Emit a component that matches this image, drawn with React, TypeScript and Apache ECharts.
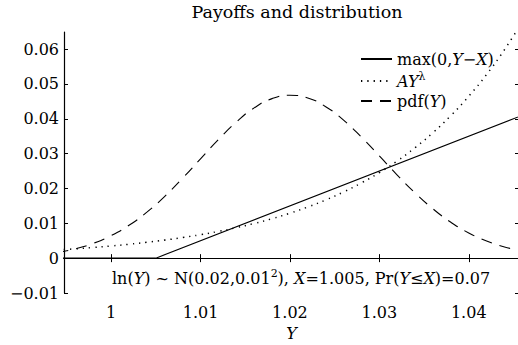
import React, { useEffect, useRef } from "react";
import * as echarts from "echarts";

// Y grid (x-axis values)
const yGrid = [
  0.994, 0.996, 0.998, 1.0, 1.002, 1.004, 1.006, 1.008, 1.01, 1.012, 1.014, 1.016, 1.018, 1.02,
  1.022, 1.024, 1.026, 1.028, 1.03, 1.032, 1.034, 1.036, 1.038, 1.04, 1.042, 1.044, 1.046,
];
// pdf(Y), scaled (dashed)
const pdfValues = [
  0.00163, 0.00268, 0.00425, 0.00646, 0.00942, 0.01319, 0.01775, 0.02295, 0.0285, 0.03403,
  0.03906, 0.04312, 0.04578, 0.04676, 0.04596, 0.04347, 0.03959, 0.03472, 0.02933, 0.02386,
  0.01871, 0.01414, 0.0103, 0.00723, 0.0049, 0.0032, 0.00202,
];
// A*Y^lambda (dotted)
const powerValues = [
  0.00235, 0.00268, 0.00306, 0.00349, 0.00398, 0.00454, 0.00518, 0.00591, 0.00673, 0.00767,
  0.00874, 0.00995, 0.01133, 0.0129, 0.01468, 0.0167, 0.01899, 0.0216, 0.02455, 0.02791,
  0.03171, 0.03602, 0.04092, 0.04646, 0.05273, 0.05985, 0.06791,
];
// max(0, Y - X) (solid)
const payoffY = [0.994, 1.005, 1.046];
const payoffValues = [0, 0, 0.041];

const xTicks = [1, 1.01, 1.02, 1.03, 1.04];
const xTickLabels = ["1", "1.01", "1.02", "1.03", "1.04"];
const yTicks = [-0.01, 0, 0.01, 0.02, 0.03, 0.04, 0.05, 0.06];
const yTickLabels = ["\u22120.01", "0", "0.01", "0.02", "0.03", "0.04", "0.05", "0.06"];

const seriesNames = ["payoff", "power", "pdf"];
const legendLabels = [
  "{n|max(0,}{i|Y}{n|\u2212}{i|X}{n|)}",
  "{i|AY}{sup|\u03bb}",
  "{n|pdf(}{i|Y}{n|)}",
];

const FONT = "DejaVu Serif";

function lookup(ticks: number[], labels: string[], v: number) {
  const i = ticks.findIndex((t) => Math.abs(t - v) < 1e-9);
  return i >= 0 ? labels[i] : "";
}

export default function App() {
  const ref = useRef<HTMLDivElement>(null);
  useEffect(() => {
    if (!ref.current) return;
    const chart = echarts.init(ref.current, null, { renderer: "svg" });
    const rich = {
      n: { fontFamily: FONT, fontSize: 16, color: "#000", lineHeight: 20 },
      i: { fontFamily: FONT, fontStyle: "italic", fontSize: 16, color: "#000", lineHeight: 20 },
      sup: { fontFamily: FONT, fontSize: 11, color: "#000", verticalAlign: "top", lineHeight: 10 },
    };
    const xMin = 0.99473;
    const xMax = 1.04562;
    const yMin = -0.01;
    const yMax = 0.0649;
    const axisCommon = {
      axisLine: { show: true, lineStyle: { color: "#000", width: 1.2 } },
      axisTick: { show: true, inside: true, length: 4, lineStyle: { color: "#000", width: 1 } },
      splitLine: { show: false },
    };
    chart.setOption({
      animation: false,
      backgroundColor: "#fff",
      textStyle: { fontFamily: FONT },
      title: {
        text: "Payoffs and distribution",
        left: 292,
        textAlign: "center",
        top: -2,
        textStyle: { fontFamily: FONT, fontSize: 17.5, fontWeight: "normal", color: "#000" },
      },
      grid: {
        left: 64,
        top: 32,
        width: 455,
        height: 261,
        containLabel: false,
        outerBoundsMode: "none",
      },
      xAxis: [
        {
          type: "value",
          min: xMin,
          max: xMax,
          position: "bottom",
          name: "Y",
          nameLocation: "middle",
          nameGap: 32,
          nameTextStyle: { fontFamily: FONT, fontStyle: "italic", fontSize: 16, color: "#000" },
          ...axisCommon,
          axisTick: { ...axisCommon.axisTick, customValues: xTicks },
          axisLabel: {
            customValues: xTicks,
            margin: 11,
            fontFamily: FONT,
            fontSize: 16,
            color: "#000",
            formatter: (v: number) => lookup(xTicks, xTickLabels, v),
          },
        },
        {
          type: "value",
          min: xMin,
          max: xMax,
          position: "top",
          ...axisCommon,
          axisTick: { ...axisCommon.axisTick, customValues: xTicks },
          axisLabel: { show: false },
        },
      ],
      yAxis: [
        {
          type: "value",
          min: yMin,
          max: yMax,
          position: "left",
          ...axisCommon,
          axisTick: { ...axisCommon.axisTick, customValues: yTicks },
          axisLabel: {
            customValues: yTicks,
            margin: 5,
            fontFamily: FONT,
            fontSize: 16,
            color: "#000",
            formatter: (v: number) => lookup(yTicks, yTickLabels, v),
          },
        },
        {
          type: "value",
          min: yMin,
          max: yMax,
          position: "right",
          ...axisCommon,
          axisTick: { ...axisCommon.axisTick, customValues: yTicks },
          axisLabel: { show: false },
        },
      ],
      legend: {
        orient: "vertical",
        left: 355,
        top: 46,
        itemWidth: 31,
        itemHeight: 14,
        itemGap: 4,
        data: seriesNames,
        itemStyle: { opacity: 0 },
        formatter: (n: string) => legendLabels[seriesNames.indexOf(n)],
        textStyle: { fontFamily: FONT, fontSize: 16, color: "#000", rich, padding: [0, 0, 0, 0] },
      },
      graphic: [
        {
          type: "text",
          left: 112,
          top: 268,
          style: {
            text:
              "{n|ln(}{i|Y}{n|) ~ N(0.02,0.01}{sup|2}{n|), }{i|X}{n|=1.005, Pr(}{i|Y}{n|\u2264}{i|X}{n|)=0.07}",
            fontFamily: FONT,
            fontSize: 16,
            fill: "#000",
            rich,
          },
        },
      ],
      series: [
        {
          name: seriesNames[0],
          type: "line",
          data: payoffY.map((y, i) => [y, payoffValues[i]]),
          symbol: "none",
          lineStyle: { color: "#000", width: 1.1, type: "solid" },
        },
        {
          name: seriesNames[1],
          type: "line",
          data: yGrid.map((y, i) => [y, powerValues[i]]),
          symbol: "none",
          smooth: true,
          lineStyle: { color: "#000", width: 1.5, type: [1.3, 5] },
        },
        {
          name: seriesNames[2],
          type: "line",
          data: yGrid.map((y, i) => [y, pdfValues[i]]),
          symbol: "none",
          smooth: true,
          lineStyle: { color: "#000", width: 1.1, type: [11, 8] },
        },
      ],
    });
    return () => chart.dispose();
  }, []);
  return (
    <div
      ref={ref}
      style={{ position: "fixed", left: 0, top: 0, width: 518, height: 345, background: "#fff" }}
    />
  );
}
